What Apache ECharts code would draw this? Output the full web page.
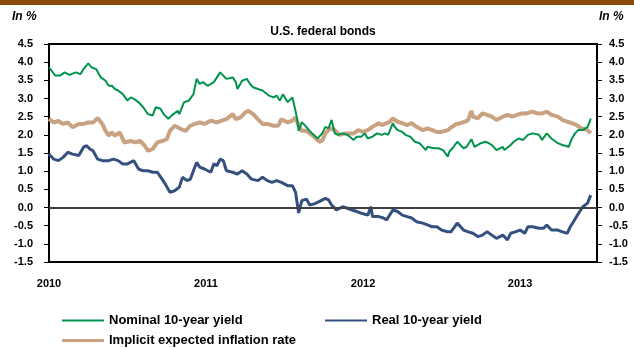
<!DOCTYPE html>
<html>
<head>
<meta charset="utf-8">
<script src="https://cdn.jsdelivr.net/npm/echarts@6/dist/echarts.min.js"></script>
<style>
html,body{margin:0;padding:0;background:#fff;}
#chart{width:634px;height:348px;}
</style>
</head>
<body>
<div id="chart"></div>
<script>
// Values: [year (fractional), percent]
const yearTicks = ['2010', '2011', '2012', '2013'];
const seriesNames = ['Nominal 10-year yield', 'Real 10-year yield', 'Implicit expected inflation rate'];

const nominal = [
[2010.00,3.86],[2010.04,3.63],[2010.07,3.63],[2010.10,3.72],[2010.13,3.65],[2010.17,3.72],[2010.20,3.67],[2010.22,3.81],[2010.25,3.97],[2010.27,3.86],[2010.30,3.81],[2010.33,3.58],[2010.36,3.49],[2010.38,3.35],[2010.40,3.35],[2010.42,3.26],[2010.44,3.22],[2010.47,3.12],[2010.50,2.94],[2010.52,3.03],[2010.54,2.99],[2010.57,2.90],[2010.60,2.76],[2010.63,2.57],[2010.66,2.53],[2010.68,2.76],[2010.71,2.72],[2010.73,2.57],[2010.76,2.44],[2010.78,2.53],[2010.82,2.66],[2010.83,2.57],[2010.86,2.90],[2010.89,2.94],[2010.92,3.12],[2010.94,3.54],[2010.96,3.40],[2010.98,3.45],[2011.01,3.35],[2011.05,3.45],[2011.06,3.40],[2011.09,3.72],[2011.11,3.63],[2011.13,3.54],[2011.17,3.58],[2011.19,3.45],[2011.20,3.26],[2011.23,3.49],[2011.26,3.54],[2011.28,3.40],[2011.30,3.31],[2011.33,3.26],[2011.36,3.22],[2011.40,3.08],[2011.43,3.03],[2011.45,3.08],[2011.47,2.94],[2011.49,3.12],[2011.52,2.90],[2011.55,3.03],[2011.57,2.66],[2011.58,2.44],[2011.59,2.11],[2011.61,2.35],[2011.63,2.26],[2011.66,2.11],[2011.68,2.02],[2011.69,2.04],[2011.71,1.90],[2011.74,2.04],[2011.76,2.22],[2011.78,2.18],[2011.80,2.41],[2011.82,2.04],[2011.84,2.00],[2011.87,2.04],[2011.90,2.00],[2011.94,1.86],[2011.96,1.95],[2011.99,1.95],[2012.01,2.04],[2012.03,1.90],[2012.06,1.95],[2012.09,2.04],[2012.12,2.00],[2012.14,2.04],[2012.16,2.00],[2012.19,2.32],[2012.20,2.23],[2012.22,2.13],[2012.25,2.08],[2012.27,2.00],[2012.30,1.95],[2012.33,1.81],[2012.36,1.77],[2012.40,1.58],[2012.41,1.67],[2012.45,1.63],[2012.48,1.63],[2012.51,1.58],[2012.54,1.40],[2012.55,1.54],[2012.57,1.63],[2012.60,1.81],[2012.64,1.63],[2012.66,1.67],[2012.69,1.88],[2012.71,1.67],[2012.75,1.77],[2012.78,1.81],[2012.80,1.77],[2012.82,1.72],[2012.85,1.58],[2012.89,1.67],[2012.90,1.58],[2012.94,1.72],[2012.96,1.81],[2012.99,1.90],[2013.02,1.86],[2013.05,2.00],[2013.08,2.04],[2013.12,2.00],[2013.14,1.86],[2013.17,2.04],[2013.20,1.90],[2013.24,1.77],[2013.27,1.72],[2013.31,1.67],[2013.33,1.90],[2013.35,2.04],[2013.37,2.13],[2013.40,2.13],[2013.43,2.22],[2013.44,2.32],[2013.45,2.45]
];

const real = [
[2010.00,1.47],[2010.03,1.33],[2010.06,1.29],[2010.09,1.38],[2010.12,1.52],[2010.15,1.47],[2010.19,1.43],[2010.22,1.66],[2010.24,1.70],[2010.26,1.61],[2010.28,1.56],[2010.31,1.33],[2010.34,1.29],[2010.38,1.29],[2010.41,1.33],[2010.44,1.29],[2010.47,1.20],[2010.50,1.20],[2010.54,1.29],[2010.57,1.06],[2010.60,1.01],[2010.63,1.01],[2010.66,0.97],[2010.69,0.97],[2010.72,0.78],[2010.74,0.65],[2010.77,0.42],[2010.80,0.46],[2010.83,0.56],[2010.85,0.83],[2010.88,0.74],[2010.90,0.78],[2010.92,1.01],[2010.94,1.24],[2010.96,1.11],[2010.99,1.06],[2011.03,0.97],[2011.05,1.20],[2011.07,1.15],[2011.09,1.33],[2011.11,1.29],[2011.13,1.01],[2011.17,0.97],[2011.20,0.92],[2011.23,1.01],[2011.26,0.92],[2011.29,0.78],[2011.33,0.74],[2011.36,0.83],[2011.39,0.74],[2011.42,0.69],[2011.45,0.74],[2011.48,0.69],[2011.52,0.60],[2011.55,0.60],[2011.57,0.42],[2011.59,-0.15],[2011.61,0.19],[2011.64,0.23],[2011.66,0.07],[2011.69,0.10],[2011.72,0.16],[2011.76,0.25],[2011.78,0.21],[2011.80,0.07],[2011.83,-0.07],[2011.87,0.02],[2011.90,-0.02],[2011.93,-0.07],[2011.96,-0.11],[2011.99,-0.16],[2012.03,-0.21],[2012.05,0.02],[2012.06,-0.25],[2012.10,-0.25],[2012.13,-0.29],[2012.15,-0.34],[2012.19,-0.07],[2012.22,-0.11],[2012.25,-0.21],[2012.28,-0.25],[2012.31,-0.29],[2012.34,-0.39],[2012.38,-0.43],[2012.41,-0.48],[2012.44,-0.53],[2012.47,-0.53],[2012.50,-0.62],[2012.54,-0.67],[2012.56,-0.67],[2012.57,-0.62],[2012.60,-0.43],[2012.64,-0.62],[2012.67,-0.67],[2012.70,-0.71],[2012.73,-0.80],[2012.76,-0.76],[2012.79,-0.67],[2012.82,-0.76],[2012.85,-0.85],[2012.89,-0.76],[2012.92,-0.89],[2012.94,-0.71],[2012.97,-0.67],[2013.00,-0.62],[2013.03,-0.71],[2013.05,-0.53],[2013.08,-0.53],[2013.12,-0.57],[2013.15,-0.57],[2013.17,-0.48],[2013.20,-0.62],[2013.24,-0.62],[2013.27,-0.67],[2013.30,-0.71],[2013.32,-0.53],[2013.34,-0.39],[2013.36,-0.25],[2013.38,-0.11],[2013.40,0.02],[2013.43,0.12],[2013.45,0.34]
];

const inflation = [
[2010.00,2.44],[2010.03,2.34],[2010.06,2.38],[2010.09,2.30],[2010.12,2.34],[2010.15,2.21],[2010.19,2.30],[2010.22,2.30],[2010.25,2.34],[2010.28,2.34],[2010.31,2.46],[2010.34,2.30],[2010.36,2.11],[2010.38,1.98],[2010.40,2.07],[2010.42,1.98],[2010.45,2.07],[2010.48,1.79],[2010.52,1.83],[2010.55,1.79],[2010.58,1.83],[2010.61,1.70],[2010.63,1.56],[2010.66,1.61],[2010.69,1.79],[2010.72,1.83],[2010.75,1.88],[2010.77,2.11],[2010.80,2.25],[2010.84,2.16],[2010.87,2.11],[2010.90,2.25],[2010.93,2.30],[2010.96,2.34],[2010.99,2.30],[2011.03,2.39],[2011.07,2.34],[2011.10,2.39],[2011.13,2.43],[2011.17,2.57],[2011.19,2.43],[2011.22,2.48],[2011.25,2.62],[2011.27,2.66],[2011.30,2.57],[2011.33,2.43],[2011.36,2.30],[2011.39,2.30],[2011.43,2.25],[2011.46,2.25],[2011.48,2.43],[2011.52,2.34],[2011.55,2.39],[2011.57,2.48],[2011.59,2.25],[2011.61,2.11],[2011.64,2.11],[2011.68,1.98],[2011.70,1.90],[2011.72,1.81],[2011.74,1.84],[2011.76,2.04],[2011.79,2.18],[2011.82,2.13],[2011.85,2.00],[2011.89,2.04],[2011.90,2.08],[2011.94,2.04],[2011.97,2.13],[2012.00,2.08],[2012.03,2.13],[2012.06,2.22],[2012.10,2.32],[2012.12,2.27],[2012.15,2.32],[2012.17,2.36],[2012.19,2.45],[2012.22,2.36],[2012.25,2.32],[2012.28,2.27],[2012.31,2.32],[2012.34,2.22],[2012.38,2.13],[2012.41,2.18],[2012.44,2.13],[2012.47,2.08],[2012.50,2.08],[2012.54,2.13],[2012.56,2.20],[2012.59,2.29],[2012.62,2.32],[2012.65,2.36],[2012.67,2.41],[2012.69,2.66],[2012.70,2.50],[2012.73,2.45],[2012.76,2.59],[2012.79,2.55],[2012.82,2.50],[2012.85,2.41],[2012.89,2.50],[2012.92,2.55],[2012.95,2.50],[2012.98,2.55],[2013.01,2.59],[2013.04,2.59],[2013.08,2.64],[2013.11,2.59],[2013.14,2.59],[2013.17,2.64],[2013.20,2.55],[2013.24,2.50],[2013.27,2.41],[2013.30,2.36],[2013.33,2.32],[2013.36,2.27],[2013.39,2.18],[2013.43,2.13],[2013.45,2.04]
];

const FONT = '"Liberation Sans", Arial, sans-serif';
const COLORS = {nominal: '#00934b', real: '#34507f', inflation: '#c9a282'};
const chart = echarts.init(document.getElementById('chart'), null, {renderer: 'canvas'});

const yAxisCommon = {
  type: 'value', min: -1.5, max: 4.5, interval: 0.5,
  axisLine: {show: true, lineStyle: {color: '#000', width: 2}},
  axisTick: {show: true, length: 5, lineStyle: {color: '#000', width: 1}},
  splitLine: {show: false},
  axisLabel: {color: '#000', fontWeight: 'bold', fontSize: 11, fontFamily: FONT,
    formatter: v => v.toFixed(1)}
};

const legendCommon = {
  itemWidth: 42, padding: 0, icon: 'rect',
  textStyle: {color: '#000', fontWeight: 'bold', fontSize: 13, fontFamily: FONT},
  selectedMode: false
};

chart.setOption({
  animation: false,
  backgroundColor: '#fff',
  grid: {left: 49, right: 37, top: 44, bottom: 86, show: true, borderColor: '#000', borderWidth: 2, containLabel: false},
  xAxis: {
    type: 'value', min: 2010, max: 2013.49, interval: 1,
    axisLine: {onZero: false, lineStyle: {color: '#000', width: 2}},
    axisTick: {show: false},
    splitLine: {show: false},
    axisLabel: {margin: 16, color: '#000', fontWeight: 'bold', fontSize: 11, fontFamily: FONT,
      showMaxLabel: false,
      formatter: v => {
        const i = yearTicks.indexOf(String(Math.round(v)));
        return (Math.abs(v - Math.round(v)) < 1e-6 && i >= 0) ? yearTicks[i] : '';
      }}
  },
  yAxis: [
    Object.assign({}, yAxisCommon, {position: 'left', axisLabel: Object.assign({}, yAxisCommon.axisLabel, {margin: 16})}),
    Object.assign({}, yAxisCommon, {position: 'right', axisLabel: Object.assign({}, yAxisCommon.axisLabel, {margin: 12})})
  ],
  legend: [
    Object.assign({}, legendCommon, {left: 62, top: 314, itemHeight: 2, data: [seriesNames[0]]}),
    Object.assign({}, legendCommon, {left: 325, top: 314, itemHeight: 2, data: [seriesNames[1]]}),
    Object.assign({}, legendCommon, {left: 62, top: 334, itemHeight: 3, data: [seriesNames[2]]})
  ],
  graphic: [
    {type: 'rect', left: 0, top: 0, shape: {width: 634, height: 5}, style: {fill: '#8a4a0c'}},
    {type: 'text', left: 12, top: 11, style: {text: 'In %', fill: '#000', font: 'italic bold 12px ' + FONT}},
    {type: 'text', left: 599, top: 11, style: {text: 'In %', fill: '#000', font: 'italic bold 12px ' + FONT}},
    {type: 'text', x: 323, y: 26, style: {text: 'U.S. federal bonds', fill: '#000', font: 'bold 12px ' + FONT, textAlign: 'center'}}
  ],
  series: [
    {
      name: seriesNames[2], type: 'line', data: inflation, symbol: 'none', z: 2,
      lineStyle: {color: COLORS.inflation, width: 4}, itemStyle: {color: COLORS.inflation}
    },
    {
      name: seriesNames[1], type: 'line', data: real, symbol: 'none', z: 3,
      lineStyle: {color: COLORS.real, width: 3}, itemStyle: {color: COLORS.real},
      markLine: {silent: true, symbol: 'none', label: {show: false},
        lineStyle: {color: '#404040', width: 2, type: 'solid'}, data: [{yAxis: 0}]}
    },
    {
      name: seriesNames[0], type: 'line', data: nominal, symbol: 'none', z: 4,
      lineStyle: {color: COLORS.nominal, width: 2}, itemStyle: {color: COLORS.nominal}
    }
  ]
});
</script>
</body>
</html>
